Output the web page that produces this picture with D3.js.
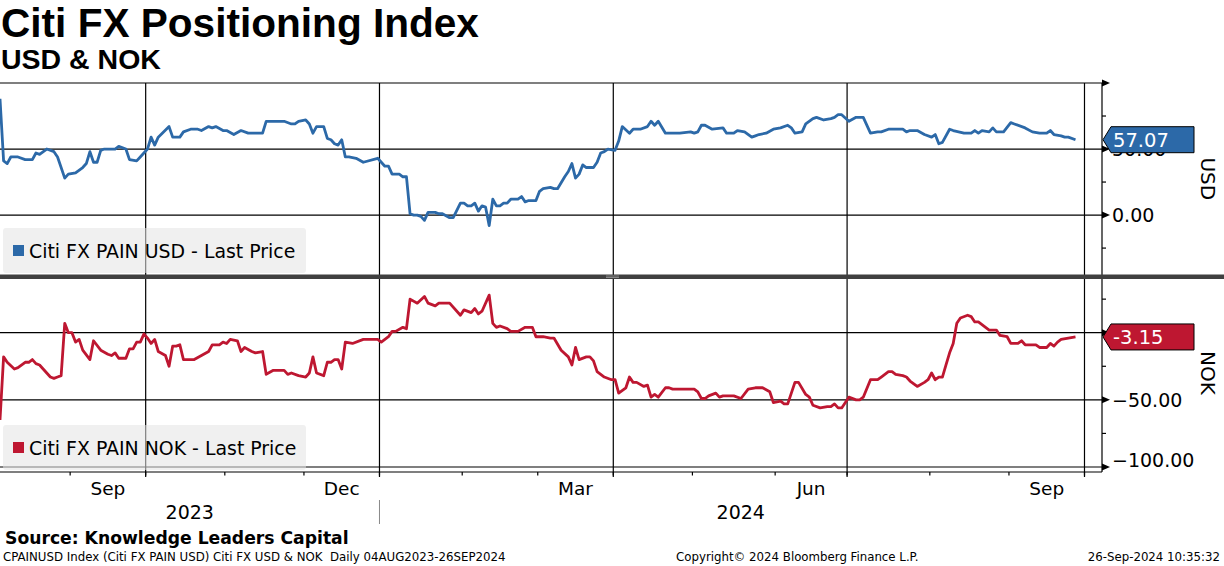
<!DOCTYPE html>
<html><head><meta charset="utf-8">
<script src="https://cdn.jsdelivr.net/npm/d3@7"></script>
<style>
body{margin:0;background:#fff}
svg{display:block}
text{font-family:"DejaVu Sans",Verdana,sans-serif;fill:#000}
.ttl{font-family:"Liberation Sans",Arial,sans-serif;font-weight:bold}
.cond{font-family:"DejaVu Sans Condensed","DejaVu Sans",sans-serif;font-stretch:condensed;white-space:pre}
</style>
</head><body>
<svg id="chart" width="1224" height="566"></svg>
<script>
// ---------------- data ----------------
const titleText = "Citi FX Positioning Index";
const subtitleText = "USD & NOK";
const legendNames = ["Citi FX PAIN USD - Last Price", "Citi FX PAIN NOK - Last Price"];
const axisNames = ["USD", "NOK"];
const lastLabels = ["57.07", "-3.15"];

const usdDates = ["2023-08-04","2023-08-07","2023-08-08","2023-08-09","2023-08-11","2023-08-15","2023-08-17","2023-08-18","2023-08-21","2023-08-23","2023-08-25","2023-08-28","2023-08-30","2023-08-31","2023-09-04","2023-09-06","2023-09-07","2023-09-08","2023-09-11","2023-09-12","2023-09-13","2023-09-14","2023-09-15","2023-09-19","2023-09-20","2023-09-22","2023-09-25","2023-09-27","2023-09-28","2023-10-02","2023-10-03","2023-10-04","2023-10-05","2023-10-10","2023-10-11","2023-10-13","2023-10-16","2023-10-18","2023-10-20","2023-10-23","2023-10-25","2023-10-26","2023-10-27","2023-10-31","2023-11-01","2023-11-03","2023-11-07","2023-11-09","2023-11-15","2023-11-16","2023-11-23","2023-11-27","2023-11-28","2023-11-29","2023-12-01","2023-12-04","2023-12-05","2023-12-06","2023-12-08","2023-12-11","2023-12-12","2023-12-13","2023-12-14","2023-12-15","2023-12-18","2023-12-19","2023-12-21","2023-12-25","2023-12-29","2024-01-02","2024-01-03","2024-01-04","2024-01-08","2024-01-09","2024-01-10","2024-01-11","2024-01-12","2024-01-15","2024-01-16","2024-01-17","2024-01-18","2024-01-22","2024-01-23","2024-01-24","2024-01-26","2024-01-29","2024-01-31","2024-02-01","2024-02-02","2024-02-05","2024-02-06","2024-02-07","2024-02-08","2024-02-09","2024-02-12","2024-02-13","2024-02-14","2024-02-15","2024-02-16","2024-02-19","2024-02-20","2024-02-22","2024-02-23","2024-02-26","2024-02-27","2024-02-29","2024-03-01","2024-03-04","2024-03-06","2024-03-07","2024-03-08","2024-03-12","2024-03-13","2024-03-14","2024-03-15","2024-03-18","2024-03-19","2024-03-20","2024-03-22","2024-03-25","2024-03-26","2024-03-27","2024-03-28","2024-04-01","2024-04-02","2024-04-03","2024-04-05","2024-04-08","2024-04-10","2024-04-12","2024-04-15","2024-04-16","2024-04-17","2024-04-19","2024-04-25","2024-04-30","2024-05-01","2024-05-02","2024-05-03","2024-05-06","2024-05-08","2024-05-13","2024-05-14","2024-05-16","2024-05-17","2024-05-21","2024-05-23","2024-05-24","2024-05-27","2024-05-29","2024-05-31","2024-06-04","2024-06-06","2024-06-07","2024-06-10","2024-06-12","2024-06-13","2024-06-17","2024-06-18","2024-06-20","2024-06-24","2024-06-25","2024-06-26","2024-06-27","2024-07-01","2024-07-03","2024-07-05","2024-07-09","2024-07-11","2024-07-12","2024-07-16","2024-07-22","2024-07-23","2024-07-24","2024-07-26","2024-07-30","2024-08-01","2024-08-02","2024-08-05","2024-08-06","2024-08-08","2024-08-09","2024-08-14","2024-08-16","2024-08-19","2024-08-20","2024-08-21","2024-08-23","2024-08-26","2024-08-27","2024-08-29","2024-09-02","2024-09-03","2024-09-06","2024-09-10","2024-09-12","2024-09-16","2024-09-17","2024-09-18","2024-09-20","2024-09-23","2024-09-24","2024-09-26"];
const usdValues = [88,41,39,44,44,42,42,47,46,50,48,44,28,31,32,36,39,48,40,40,49,50,50,50,52,50,42,41,44,50,59,53,59,67,59,59,63,65,65,64,67,66,67,64,64,61,64,62,62,71,71,69,69,71,72,69,62,67,67,58,57,54,53,57,44,44,43,40,43,37,37,31,31,29,29,1,0,0,-1,-4,2,2,1,1,-2,-2,9,9,7,7,9,3,7,6,-8,12,7,7,9,9,12,12,14,10,11,11,18,20,21,20,20,29,33,39,28,31,38,36,36,40,47,48,50,49,56,67,62,65,65,67,71,68,71,62,62,63,62,63,68,68,65,66,62,62,64,63,59,60,61,62,65,66,68,66,62,63,69,73,74,72,73,74,76,76,71,74,74,62,63,63,65,65,63,64,64,61,59,61,54,55,65,64,62,62,64,62,64,63,66,63,63,70,69,66,63,62,62,64,61,60,59,59,57.07];

const nokDates = ["2023-08-04","2023-08-07","2023-08-08","2023-08-10","2023-08-11","2023-08-15","2023-08-16","2023-08-17","2023-08-18","2023-08-21","2023-08-22","2023-08-24","2023-08-25","2023-08-28","2023-08-29","2023-08-30","2023-08-31","2023-09-01","2023-09-04","2023-09-05","2023-09-06","2023-09-08","2023-09-11","2023-09-13","2023-09-15","2023-09-18","2023-09-19","2023-09-20","2023-09-22","2023-09-25","2023-09-26","2023-09-27","2023-09-28","2023-09-29","2023-10-02","2023-10-03","2023-10-04","2023-10-05","2023-10-09","2023-10-10","2023-10-11","2023-10-12","2023-10-13","2023-10-16","2023-10-19","2023-10-23","2023-10-25","2023-10-26","2023-10-30","2023-10-31","2023-11-01","2023-11-02","2023-11-06","2023-11-07","2023-11-08","2023-11-10","2023-11-13","2023-11-15","2023-11-16","2023-11-20","2023-11-23","2023-11-24","2023-11-27","2023-11-29","2023-12-01","2023-12-04","2023-12-05","2023-12-06","2023-12-08","2023-12-11","2023-12-12","2023-12-13","2023-12-14","2023-12-15","2023-12-18","2023-12-20","2023-12-25","2023-12-29","2024-01-01","2024-01-03","2024-01-04","2024-01-05","2024-01-09","2024-01-10","2024-01-11","2024-01-15","2024-01-17","2024-01-18","2024-01-22","2024-01-23","2024-01-26","2024-01-31","2024-02-01","2024-02-05","2024-02-06","2024-02-07","2024-02-08","2024-02-12","2024-02-13","2024-02-14","2024-02-15","2024-02-19","2024-02-20","2024-02-22","2024-02-26","2024-02-28","2024-02-29","2024-03-04","2024-03-06","2024-03-07","2024-03-11","2024-03-13","2024-03-14","2024-03-15","2024-03-18","2024-03-20","2024-03-21","2024-03-22","2024-03-25","2024-03-27","2024-03-29","2024-04-01","2024-04-02","2024-04-04","2024-04-05","2024-04-08","2024-04-09","2024-04-11","2024-04-12","2024-04-15","2024-04-16","2024-04-17","2024-04-19","2024-04-22","2024-04-23","2024-04-26","2024-05-01","2024-05-02","2024-05-03","2024-05-06","2024-05-07","2024-05-09","2024-05-10","2024-05-13","2024-05-16","2024-05-20","2024-05-22","2024-05-24","2024-05-28","2024-05-30","2024-05-31","2024-06-04","2024-06-05","2024-06-06","2024-06-10","2024-06-11","2024-06-13","2024-06-14","2024-06-17","2024-06-19","2024-06-21","2024-06-24","2024-06-25","2024-06-26","2024-06-27","2024-07-01","2024-07-03","2024-07-04","2024-07-05","2024-07-09","2024-07-11","2024-07-12","2024-07-16","2024-07-17","2024-07-18","2024-07-22","2024-07-23","2024-07-24","2024-07-26","2024-07-30","2024-07-31","2024-08-01","2024-08-02","2024-08-05","2024-08-06","2024-08-07","2024-08-08","2024-08-09","2024-08-12","2024-08-13","2024-08-15","2024-08-16","2024-08-19","2024-08-20","2024-08-22","2024-08-23","2024-08-27","2024-08-28","2024-08-30","2024-09-02","2024-09-04","2024-09-05","2024-09-06","2024-09-11","2024-09-12","2024-09-16","2024-09-17","2024-09-18","2024-09-19","2024-09-20","2024-09-24","2024-09-26"];
const nokValues = [-65,-18,-22,-27,-26,-22,-22,-20,-23,-24,-27,-33,-34,-33,-32,7,0,0,-7,-5,-13,-20,-6,-13,-16,-17,-15,-19,-19,-12,-12,-7,-7,-1,-4,-8,-5,-14,-17,-25,-10,-10,-9,-20,-20,-17,-14,-9,-9,-7,-8,-5,-6,-14,-11,-14,-15,-14,-31,-28,-28,-31,-30,-32,-33,-30,-18,-30,-32,-22,-22,-20,-20,-27,-7,-8,-5,-5,-7,-3,1,1,4,3,25,22,27,22,20,22,22,13,17,15,18,14,16,28,7,4,5,3,1,1,4,4,-3,-3,-4,-4,-13,-18,-24,-11,-20,-18,-18,-21,-29,-33,-35,-35,-45,-41,-33,-37,-37,-40,-39,-48,-46,-48,-41,-41,-42,-42,-42,-44,-49,-49,-47,-45,-48,-47,-47,-49,-42,-41,-41,-44,-52,-51,-53,-53,-37,-37,-46,-48,-54,-56,-55,-55,-53,-56,-56,-48,-50,-50,-48,-35,-35,-33,-29,-29,-31,-32,-33,-36,-40,-37,-35,-30,-35,-33,-33,-24,-15,-8,7,11,13,12,8,8,4,2,2,-2,-3,-8,-8,-6,-9,-9,-11,-11,-8,-10,-7,-5,-4,-3.15];

const usdTicks = [-25, 0, 25, 50, 75, 100];
const usdMajor = [0, 50, 100];
const usdLabelled = [0, 50];
const nokTicks = [-100, -75, -50, -25, 0, 25];
const nokMajor = [-100, -50, 0];
const nokLabelled = [-100, -50];
const monthLabelNames = ["Sep", "Dec", "Mar", "Jun", "Sep"];
const yearLabels = ["2023", "2024"];
const footerSource = "Source: Knowledge Leaders Capital";
const footerLeft = "CPAINUSD Index (Citi FX PAIN USD) Citi FX USD & NOK  Daily 04AUG2023-26SEP2024";
const footerMid = "Copyright\u00A9 2024 Bloomberg Finance L.P.";
const footerRight = "26-Sep-2024 10:35:32";

// ---------------- setup ----------------
const BLUE = "#2c69a8", RED = "#be1731";
const parse = d3.utcParse("%Y-%m-%d");
const START = parse("2023-08-04");
// business-day index (Bloomberg daily charts skip weekends)
function bd(d) {
  const days = Math.round((d - START) / 864e5);
  const w = Math.floor(days / 7), r = days - 7 * w;
  return 5 * w + [0, 0, 0, 1, 2, 3, 4][r];
}
function firstWeekday(d) {
  let t = new Date(d);
  while (t.getUTCDay() === 0 || t.getUTCDay() === 6) t = d3.utcDay.offset(t, 1);
  return t;
}
const endIdx = bd(parse("2024-09-26"));

const W = 1224, H = 566;
const plotL = 0, plotR = 1102;
const top1 = 83, bot1 = 274.5, top2 = 279, bot2 = 467, axisY = 472;

const x = d3.scaleLinear().domain([0, endIdx]).range([0, 1075.5]);
const yU = d3.scaleLinear().domain([-45, 100]).range([bot1, top1]);
const yN = d3.scaleLinear().domain([-100, 40]).range([bot2, top2]);

const svg = d3.select("#chart");
svg.append("rect").attr("width", W).attr("height", H).attr("fill", "#fff");

// titles
svg.append("text").attr("class", "ttl").attr("x", 1).attr("y", 37).style("font-size", "40.6px").text(titleText);
svg.append("text").attr("class", "ttl").attr("x", 1).attr("y", 69).style("font-size", "28.5px").text(subtitleText);

// month boundaries
const months = d3.utcMonth.range(parse("2023-09-01"), parse("2024-10-02"));
const bound = m => x(bd(firstWeekday(m)) - 0.5);
const quarters = months.filter(m => m.getUTCMonth() % 3 === 0);

const g = svg.append("g");
// horizontal gridlines
usdMajor.forEach(v => g.append("line").attr("x1", plotL).attr("x2", plotR).attr("y1", yU(v)).attr("y2", yU(v)).attr("stroke", "#000").attr("stroke-width", 1.2));
nokMajor.forEach(v => g.append("line").attr("x1", plotL).attr("x2", plotR).attr("y1", yN(v)).attr("y2", yN(v)).attr("stroke", "#000").attr("stroke-width", 1.2));
// vertical quarter gridlines
quarters.forEach(m => g.append("line").attr("x1", bound(m)).attr("x2", bound(m)).attr("y1", top1).attr("y2", axisY + 5).attr("stroke", "#000").attr("stroke-width", 1.2));
// x axis line and month ticks
g.append("line").attr("x1", plotL).attr("x2", plotR).attr("y1", axisY).attr("y2", axisY).attr("stroke", "#000").attr("stroke-width", 1.2);
months.forEach(m => g.append("line").attr("x1", bound(m)).attr("x2", bound(m)).attr("y1", axisY).attr("y2", axisY + 3.5).attr("stroke", "#000").attr("stroke-width", 1.2));

// month labels (centered in month)
const labelled = months.filter(m => m.getUTCMonth() % 3 === 2);
labelled.forEach((m, i) => {
  const next = d3.utcMonth.offset(m, 1);
  g.append("text").attr("x", (bound(m) + bound(next)) / 2).attr("y", 495).attr("text-anchor", "middle")
    .attr("font-size", 18.5).text(monthLabelNames[i]);
});
// year labels
const jan = parse("2024-01-01");
g.append("text").attr("x", (plotL + bound(jan)) / 2).attr("y", 519).attr("text-anchor", "middle").attr("font-size", 19).text(yearLabels[0]);
g.append("text").attr("x", (bound(jan) + plotR) / 2).attr("y", 519).attr("text-anchor", "middle").attr("font-size", 19).text(yearLabels[1]);
g.append("line").attr("x1", bound(jan)).attr("x2", bound(jan)).attr("y1", 500).attr("y2", 524).attr("stroke", "#888").attr("stroke-width", 1);

// right axis
g.append("line").attr("x1", plotR).attr("x2", plotR).attr("y1", top1).attr("y2", axisY).attr("stroke", "#000").attr("stroke-width", 1.2);
function rightTicks(scale, ticks, major) {
  ticks.forEach(v => {
    const yy = scale(v);
    if (major.includes(v)) {
      g.append("path").attr("d", `M${plotR},${yy - 3.5}L${plotR + 8},${yy}L${plotR},${yy + 3.5}Z`).attr("fill", "#000");
    } else {
      g.append("line").attr("x1", plotR).attr("x2", plotR + 4).attr("y1", yy).attr("y2", yy).attr("stroke", "#000").attr("stroke-width", 1.2);
    }
  });
}
rightTicks(yU, usdTicks, usdMajor);
rightTicks(yN, nokTicks, nokMajor);
const fmt = d3.format(".2f");
usdLabelled.forEach(v => g.append("text").attr("x", 1112).attr("y", yU(v)).attr("dy", "0.36em").attr("font-size", 19).text(fmt(v)));
nokLabelled.forEach(v => g.append("text").attr("x", 1112).attr("y", v === -100 ? yN(v) - 7 : yN(v)).attr("dy", "0.36em").attr("font-size", 19).text(fmt(v)));
// axis titles
[[axisNames[0], (top1 + bot1) / 2], [axisNames[1], (top2 + bot2) / 2]].forEach(([t, cy]) => {
  g.append("text").attr("transform", `translate(1201,${cy}) rotate(90)`).attr("text-anchor", "middle")
    .attr("font-size", 20).text(t);
});

// legends (semi-transparent boxes)
function legend(y0, color, name) {
  g.append("rect").attr("x", 3).attr("y", y0).attr("width", 303).attr("height", 45).attr("rx", 3)
    .attr("fill", "#e4e4e4").attr("fill-opacity", 0.56);
  g.append("rect").attr("x", 13).attr("y", y0 + 17).attr("width", 11).attr("height", 11).attr("fill", color);
  g.append("text").attr("x", 29).attr("y", y0 + 30).attr("font-size", 18.9).text(name);
}
legend(228, BLUE, legendNames[0]);
legend(425, RED, legendNames[1]);

// series lines
const usd = usdDates.map((d, i) => ({ i: bd(parse(d)), v: usdValues[i] }));
const nok = nokDates.map((d, i) => ({ i: bd(parse(d)), v: nokValues[i] }));
g.append("path").datum(usd).attr("fill", "none").attr("stroke", BLUE).attr("stroke-width", 2.8)
  .attr("stroke-linejoin", "round").attr("d", d3.line().x(d => x(d.i)).y(d => yU(d.v)));
g.append("path").datum(nok).attr("fill", "none").attr("stroke", RED).attr("stroke-width", 2.8)
  .attr("stroke-linejoin", "round").attr("d", d3.line().x(d => x(d.i)).y(d => yN(d.v)));

// separator band between panels
g.append("rect").attr("x", 0).attr("y", bot1).attr("width", W).attr("height", top2 - bot1).attr("fill", "#404040");
g.append("line").attr("x1", 606).attr("x2", 619).attr("y1", bot1 + 1.5).attr("y2", bot1 + 1.5).attr("stroke", "#9a9a9a").attr("stroke-width", 0.8);
g.append("line").attr("x1", 606).attr("x2", 619).attr("y1", bot1 + 3).attr("y2", bot1 + 3).attr("stroke", "#9a9a9a").attr("stroke-width", 0.8);

// last value tags
function tag(yy, color, label) {
  g.append("path").attr("d", `M1103,${yy}L1111,${yy - 13}L1194,${yy - 13}L1194,${yy + 13}L1111,${yy + 13}Z`)
    .attr("fill", color).attr("stroke", "#000").attr("stroke-width", 1);
  g.append("text").attr("x", 1113).attr("y", yy).attr("dy", "0.36em").attr("font-size", 19.5).style("fill", "#fff").text(label);
}
tag(yU(usdValues[usdValues.length - 1]), BLUE, lastLabels[0]);
tag(yN(nokValues[nokValues.length - 1]), RED, lastLabels[1]);

// footer
svg.append("text").attr("x", 5).attr("y", 544).attr("font-weight", "bold").attr("font-size", 17.2).text(footerSource);
svg.append("text").attr("class", "cond").attr("x", 3).attr("y", 561).attr("font-size", 13.1).text(footerLeft);
svg.append("text").attr("class", "cond").attr("x", 676).attr("y", 561).attr("font-size", 13.1).text(footerMid);
svg.append("text").attr("class", "cond").attr("x", 1220).attr("y", 561).attr("text-anchor", "end").attr("font-size", 13.1).text(footerRight);
</script>
</body></html>
